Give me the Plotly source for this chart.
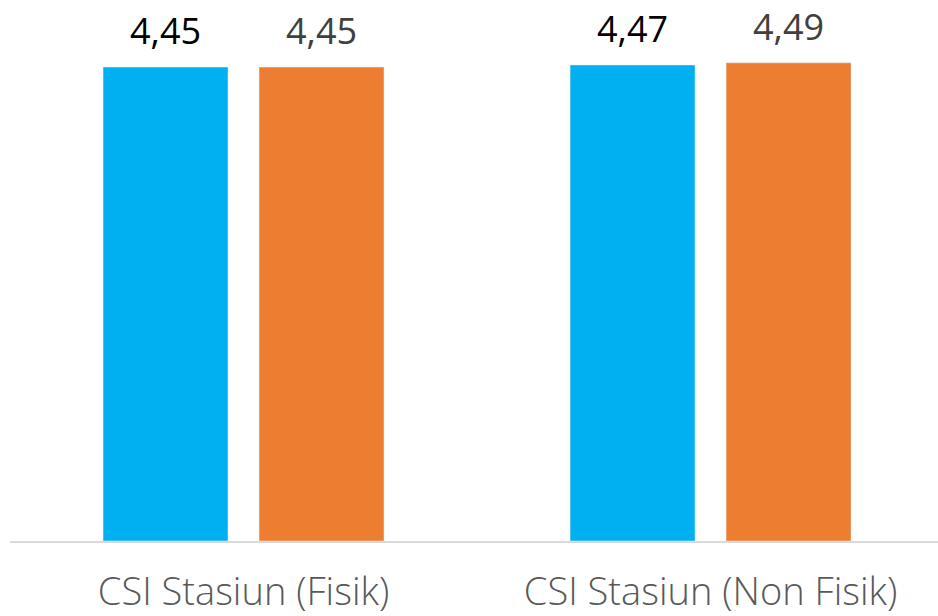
import plotly.graph_objects as go

categories = ["CSI Stasiun (Fisik)", "CSI Stasiun (Non Fisik)"]
series_a = [4.45, 4.47]
series_b = [4.45, 4.49]

colors = ["#00B0F0", "#ED7D31"]
label_colors = ["#000000", "#404040"]
offsets = [-0.5, 0.5]  # bar center offset in units of bar slot

BARGAP = 0.332
BARGROUPGAP = 0.199
FONT = "Open Sans"

fig = go.Figure()
for vals, col in zip([series_a, series_b], colors):
    fig.add_trace(go.Bar(x=categories, y=vals, marker_color=col, hoverinfo="skip"))

# value labels above each bar
slot = (1 - BARGAP) / 2
for vals, off, lc in zip([series_a, series_b], offsets, label_colors):
    for i, v in enumerate(vals):
        fig.add_annotation(
            x=i + off * slot, y=v, xref="x", yref="y",
            text=f"{v:.2f}".replace(".", ","),
            showarrow=False, yanchor="bottom", yshift=10,
            font=dict(size=36, color=lc, family=FONT, weight=400),
        )

fig.update_layout(
    width=938, height=616,
    margin=dict(l=10, r=0, t=0, b=75),
    plot_bgcolor="white", paper_bgcolor="white",
    barmode="group", bargap=BARGAP, bargroupgap=BARGROUPGAP,
    showlegend=False,
    font=dict(family=FONT),
)
fig.update_xaxes(
    range=[-0.5, 1.487], showgrid=False, automargin=False,
    showline=True, linecolor="#D9D9D9", linewidth=2,
    tickfont=dict(size=38, color="#595959", weight=300),
    ticklabelstandoff=16,
)
fig.update_yaxes(range=[0, 5.08], visible=False, showgrid=False)

fig.write_html("out.html")
